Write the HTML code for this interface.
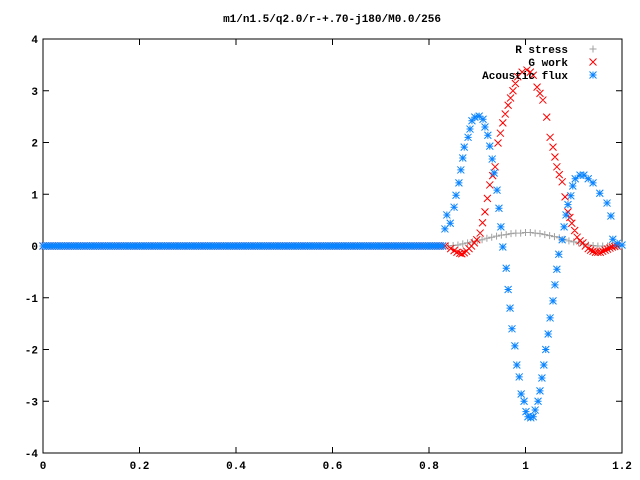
<!DOCTYPE html>
<html><head><meta charset="utf-8"><style>
html,body{margin:0;padding:0;background:#fff;}
svg{display:block;font-family:"Liberation Mono",monospace;font-size:11px;font-weight:bold;}
</style></head><body>
<svg id="chart" width="640" height="480" xmlns="http://www.w3.org/2000/svg">
<text x="332" y="22" text-anchor="middle">m1/n1.5/q2.0/r-+.70-j180/M0.0/256</text>
<g id="axes"></g>
<g id="series"></g>
<g id="legend"></g>
</svg>
<script>
const xTicks = [0, 0.2, 0.4, 0.6, 0.8, 1.0, 1.2];
const xTickLabels = ["0", "0.2", "0.4", "0.6", "0.8", "1", "1.2"];
const yTicks = [-4, -3, -2, -1, 0, 1, 2, 3, 4];
const yTickLabels = ["-4", "-3", "-2", "-1", "0", "1", "2", "3", "4"];
const gridCount = 256;
const baselineEnd = 0.83;
const fluxX = [0.833,0.837,0.844,0.852,0.856,0.862,0.866,0.870,0.873,0.881,0.885,0.889,0.895,0.904,0.912,0.916,0.922,0.926,0.931,0.935,0.941,0.945,0.949,0.953,0.960,0.964,0.968,0.972,0.978,0.982,0.987,0.991,0.997,1.001,1.005,1.011,1.016,1.020,1.026,1.030,1.034,1.038,1.042,1.047,1.051,1.057,1.061,1.065,1.069,1.076,1.080,1.084,1.088,1.094,1.098,1.103,1.113,1.121,1.130,1.140,1.154,1.169,1.177,1.181,1.190,1.200];
const fluxY = [0.33,0.6,0.44,0.75,0.98,1.22,1.47,1.7,1.91,2.1,2.26,2.42,2.49,2.51,2.45,2.3,2.14,1.93,1.68,1.41,1.08,0.73,0.37,-0.02,-0.43,-0.84,-1.2,-1.6,-1.93,-2.3,-2.53,-2.86,-3.0,-3.2,-3.3,-3.32,-3.3,-3.17,-3.0,-2.8,-2.55,-2.3,-2.0,-1.7,-1.39,-1.06,-0.75,-0.45,-0.16,0.12,0.37,0.6,0.8,0.97,1.16,1.3,1.37,1.37,1.3,1.22,1.02,0.83,0.58,0.13,0.05,0.02];
const workX = [0.833,0.845,0.852,0.858,0.864,0.868,0.873,0.878,0.883,0.888,0.894,0.899,0.906,0.911,0.916,0.921,0.926,0.932,0.937,0.943,0.948,0.953,0.958,0.964,0.969,0.974,0.979,0.984,0.993,1.003,1.010,1.016,1.024,1.030,1.036,1.044,1.051,1.057,1.061,1.065,1.070,1.076,1.082,1.088,1.092,1.096,1.102,1.107,1.113,1.119,1.124,1.130,1.135,1.140,1.145,1.150,1.155,1.160,1.165,1.170,1.175,1.180,1.185,1.190];
const workY = [0,-0.05,-0.09,-0.12,-0.14,-0.15,-0.13,-0.1,-0.05,0.0,0.06,0.12,0.25,0.45,0.66,0.92,1.18,1.36,1.53,1.99,2.18,2.38,2.55,2.72,2.86,3.0,3.14,3.27,3.36,3.4,3.36,3.3,3.07,2.95,2.82,2.49,2.1,1.91,1.72,1.53,1.38,1.24,0.95,0.66,0.55,0.44,0.3,0.17,0.1,0.06,0.0,-0.05,-0.08,-0.1,-0.12,-0.12,-0.12,-0.1,-0.08,-0.06,-0.04,-0.02,-0.01,0];
const stressX = [0.84,0.85,0.86,0.87,0.88,0.89,0.90,0.91,0.92,0.93,0.94,0.95,0.96,0.97,0.98,0.99,1.00,1.01,1.02,1.03,1.04,1.05,1.06,1.07,1.08,1.09,1.10,1.11,1.12,1.13,1.14,1.15,1.16,1.17,1.18,1.19,1.20];
const stressY = [0,0.01,0.02,0.04,0.06,0.08,0.1,0.12,0.15,0.17,0.19,0.21,0.22,0.24,0.25,0.25,0.26,0.26,0.25,0.24,0.22,0.2,0.18,0.16,0.13,0.1,0.08,0.06,0.04,0.02,0.01,0.0,0.0,0.0,0.01,0.01,0.02];

const NS = "http://www.w3.org/2000/svg";
const L = 43, R = 622, T = 39, B = 453;
const sx = v => L + (v - 0) / 1.2 * (R - L);
const sy = v => T + (4 - v) / 8 * (B - T);
function mk(tag, attrs, parent) {
  const e = document.createElementNS(NS, tag);
  for (const k in attrs) e.setAttribute(k, attrs[k]);
  parent.appendChild(e);
  return e;
}
const axes = document.getElementById('axes');
const frame = mk('rect', {x: L, y: T, width: R - L, height: B - T, fill: 'none', stroke: '#000', 'stroke-width': 1}, axes);


xTicks.forEach((t, i) => {
  const x = sx(t);
  const tk = mk('path', {d: `M${x},${B}v-6M${x},${T}v6`, stroke: '#000'}, axes);
  
  
  const lb = mk('text', {x: x, y: B + 16, 'text-anchor': 'middle'}, axes);
  lb.textContent = xTickLabels[i];
  
  
});
yTicks.forEach((t, i) => {
  const y = sy(t);
  const tk = mk('path', {d: `M${L},${y}h6M${R},${y}h-6`, stroke: '#000'}, axes);
  
  
  const lb = mk('text', {x: L - 5, y: y + 4, 'text-anchor': 'end'}, axes);
  lb.textContent = yTickLabels[i];
  
  
});
const s = 3.5;
function plus(x, y) { return `M${x-s},${y}h${2*s}M${x},${y-s}v${2*s}`; }
function cross(x, y) { return `M${x-s},${y-s}l${2*s},${2*s}M${x-s},${y+s}l${2*s},${-2*s}`; }
function star(x, y) { return plus(x, y) + cross(x, y); }
const series = document.getElementById('series');
function drawSeries(xs, ys, fn, color, name) {
  let d = '';
  xs.forEach((xv, i) => { d += fn(sx(xv), sy(ys[i])); });
  const p = mk('path', {d: d, stroke: color, 'stroke-width': 1, fill: 'none'}, series);
  
  
}
// baseline (zero) samples on the uniform grid before the feature region
const baseX = [], baseY = [];
for (let i = 0; i < gridCount; i++) { const xv = i * 1.2 / (gridCount - 1); if (xv < baselineEnd) { baseX.push(xv); baseY.push(0); } }
drawSeries(baseX.concat(stressX), baseY.concat(stressY), plus, '#a0a0a0', 'r-stress-series');
drawSeries(baseX.concat(workX), baseY.concat(workY), cross, '#ff0000', 'g-work-series');
drawSeries(baseX.concat(fluxX), baseY.concat(fluxY), star, '#0a84ff', 'acoustic-flux-series');

const legend = document.getElementById('legend');
const legendItems = [["R stress", plus, '#a0a0a0'], ["G work", cross, '#ff0000'], ["Acoustic flux", star, '#0a84ff']];
legendItems.forEach((it, i) => {
  const y = 49 + i * 13;
  const t = mk('text', {x: 568, y: y + 4, 'text-anchor': 'end'}, legend);
  t.textContent = it[0];
  
  
  const m = mk('path', {d: it[1](593, y), stroke: it[2], fill: 'none'}, legend);
  
  
});
</script>
</body></html>
